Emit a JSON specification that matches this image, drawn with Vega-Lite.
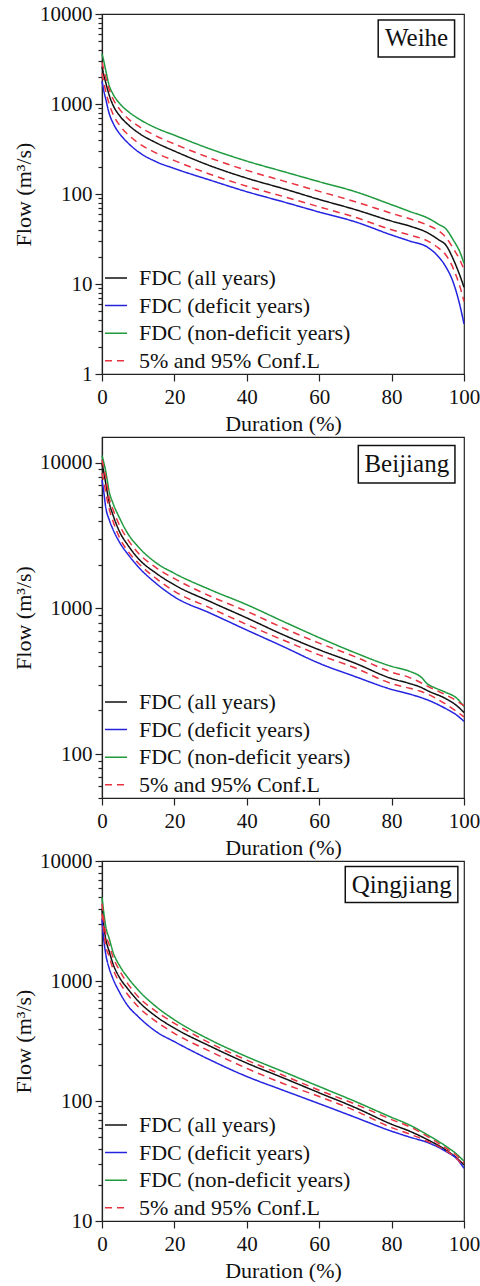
{
  "$schema": "https://vega.github.io/schema/vega-lite/v6.json",
  "background": "white",
  "padding": {"left": 11, "top": 2, "right": 0, "bottom": 0},
  "config": {
    "font": "Liberation Serif",
    "view": {"stroke": "#222", "strokeWidth": 1.2},
    "axis": {"domainColor": "#222", "domainWidth": 1.2, "tickColor": "#222", "tickWidth": 1.2, "labelFont": "Liberation Serif", "labelFontSize": 21, "labelColor": "#111", "titleFont": "Liberation Serif", "titleFontSize": 22, "titleFontWeight": "normal", "titleColor": "#111", "grid": false, "labelOverlap": false, "labelBound": false, "labelFlush": false},
    "legend": {"labelFont": "Liberation Serif", "labelFontSize": 22, "labelColor": "#111", "symbolSize": 484, "symbolStrokeWidth": 1.5, "labelOffset": 11, "rowPadding": 4.6, "padding": 0, "offset": 2, "labelLimit": 0, "symbolType": "stroke"}
  },
  "datasets": {
    "weihe": [
      {"s":"non","x":0,"y":3600},{"s":"non","x":0.5,"y":3000},{"s":"non","x":1,"y":2400},{"s":"non","x":2,"y":1600},{"s":"non","x":3,"y":1300},{"s":"non","x":5,"y":1000},{"s":"non","x":7,"y":840},{"s":"non","x":10,"y":690},{"s":"non","x":15,"y":540},{"s":"non","x":20,"y":450},{"s":"non","x":30,"y":315},{"s":"non","x":40,"y":232},{"s":"non","x":50,"y":178},{"s":"non","x":60,"y":137},{"s":"non","x":70,"y":106},{"s":"non","x":80,"y":76},{"s":"non","x":85,"y":64},{"s":"non","x":90,"y":54},{"s":"non","x":93,"y":46},{"s":"non","x":95,"y":41},{"s":"non","x":97,"y":31},{"s":"non","x":99,"y":22},{"s":"non","x":100,"y":17},
      {"s":"all","x":0,"y":2600},{"s":"all","x":0.5,"y":2100},{"s":"all","x":1,"y":1750},{"s":"all","x":2,"y":1250},{"s":"all","x":3,"y":980},{"s":"all","x":5,"y":730},{"s":"all","x":7,"y":600},{"s":"all","x":10,"y":480},{"s":"all","x":15,"y":370},{"s":"all","x":20,"y":300},{"s":"all","x":30,"y":205},{"s":"all","x":40,"y":150},{"s":"all","x":50,"y":115},{"s":"all","x":60,"y":87},{"s":"all","x":70,"y":67},{"s":"all","x":80,"y":50},{"s":"all","x":85,"y":44},{"s":"all","x":90,"y":37},{"s":"all","x":93,"y":31},{"s":"all","x":95,"y":27},{"s":"all","x":97,"y":19},{"s":"all","x":99,"y":12},{"s":"all","x":100,"y":9.2},
      {"s":"def","x":0,"y":1800},{"s":"def","x":0.5,"y":1400},{"s":"def","x":1,"y":1150},{"s":"def","x":2,"y":780},{"s":"def","x":3,"y":620},{"s":"def","x":5,"y":460},{"s":"def","x":7,"y":375},{"s":"def","x":10,"y":295},{"s":"def","x":15,"y":228},{"s":"def","x":20,"y":192},{"s":"def","x":30,"y":142},{"s":"def","x":40,"y":106},{"s":"def","x":50,"y":82},{"s":"def","x":60,"y":63},{"s":"def","x":70,"y":49},{"s":"def","x":80,"y":35},{"s":"def","x":85,"y":30},{"s":"def","x":90,"y":25.5},{"s":"def","x":93,"y":20},{"s":"def","x":95,"y":15.5},{"s":"def","x":97,"y":10.5},{"s":"def","x":99,"y":5.5},{"s":"def","x":100,"y":3.6},
      {"s":"hi","x":0,"y":2900},{"s":"hi","x":0.5,"y":2400},{"s":"hi","x":1,"y":2000},{"s":"hi","x":2,"y":1450},{"s":"hi","x":3,"y":1150},{"s":"hi","x":5,"y":860},{"s":"hi","x":7,"y":700},{"s":"hi","x":10,"y":570},{"s":"hi","x":15,"y":440},{"s":"hi","x":20,"y":360},{"s":"hi","x":30,"y":250},{"s":"hi","x":40,"y":183},{"s":"hi","x":50,"y":140},{"s":"hi","x":60,"y":107},{"s":"hi","x":70,"y":82},{"s":"hi","x":80,"y":61},{"s":"hi","x":85,"y":53},{"s":"hi","x":90,"y":45},{"s":"hi","x":93,"y":39},{"s":"hi","x":95,"y":33},{"s":"hi","x":97,"y":25},{"s":"hi","x":99,"y":18},{"s":"hi","x":100,"y":14.5},
      {"s":"lo","x":0,"y":2200},{"s":"lo","x":0.5,"y":1750},{"s":"lo","x":1,"y":1400},{"s":"lo","x":2,"y":1000},{"s":"lo","x":3,"y":780},{"s":"lo","x":5,"y":570},{"s":"lo","x":7,"y":465},{"s":"lo","x":10,"y":370},{"s":"lo","x":15,"y":285},{"s":"lo","x":20,"y":235},{"s":"lo","x":30,"y":165},{"s":"lo","x":40,"y":122},{"s":"lo","x":50,"y":94},{"s":"lo","x":60,"y":72},{"s":"lo","x":70,"y":55},{"s":"lo","x":80,"y":40},{"s":"lo","x":85,"y":35},{"s":"lo","x":90,"y":30},{"s":"lo","x":93,"y":25},{"s":"lo","x":95,"y":21},{"s":"lo","x":97,"y":15},{"s":"lo","x":99,"y":9},{"s":"lo","x":100,"y":6.4}
    ],
    "beijiang": [
      {"s":"non","x":0,"y":11200},{"s":"non","x":0.5,"y":10000},{"s":"non","x":1,"y":8800},{"s":"non","x":2,"y":6300},{"s":"non","x":3,"y":5300},{"s":"non","x":5,"y":4100},{"s":"non","x":7,"y":3300},{"s":"non","x":10,"y":2650},{"s":"non","x":15,"y":2050},{"s":"non","x":20,"y":1740},{"s":"non","x":30,"y":1340},{"s":"non","x":40,"y":1060},{"s":"non","x":50,"y":815},{"s":"non","x":60,"y":630},{"s":"non","x":70,"y":495},{"s":"non","x":80,"y":400},{"s":"non","x":85,"y":370},{"s":"non","x":88,"y":340},{"s":"non","x":90,"y":302},{"s":"non","x":92,"y":285},{"s":"non","x":95,"y":265},{"s":"non","x":98,"y":242},{"s":"non","x":100,"y":212},
      {"s":"all","x":0,"y":9800},{"s":"all","x":0.5,"y":8600},{"s":"all","x":1,"y":7300},{"s":"all","x":2,"y":5300},{"s":"all","x":3,"y":4400},{"s":"all","x":5,"y":3300},{"s":"all","x":7,"y":2750},{"s":"all","x":10,"y":2200},{"s":"all","x":15,"y":1740},{"s":"all","x":20,"y":1450},{"s":"all","x":30,"y":1110},{"s":"all","x":40,"y":860},{"s":"all","x":50,"y":660},{"s":"all","x":60,"y":520},{"s":"all","x":70,"y":420},{"s":"all","x":80,"y":330},{"s":"all","x":85,"y":305},{"s":"all","x":88,"y":288},{"s":"all","x":90,"y":272},{"s":"all","x":95,"y":240},{"s":"all","x":98,"y":215},{"s":"all","x":100,"y":193},
      {"s":"def","x":0,"y":7600},{"s":"def","x":0.5,"y":6300},{"s":"def","x":1,"y":5000},{"s":"def","x":2,"y":4050},{"s":"def","x":3,"y":3500},{"s":"def","x":5,"y":2800},{"s":"def","x":7,"y":2380},{"s":"def","x":10,"y":1930},{"s":"def","x":15,"y":1480},{"s":"def","x":20,"y":1200},{"s":"def","x":30,"y":925},{"s":"def","x":40,"y":710},{"s":"def","x":50,"y":548},{"s":"def","x":60,"y":420},{"s":"def","x":70,"y":340},{"s":"def","x":80,"y":278},{"s":"def","x":85,"y":258},{"s":"def","x":88,"y":245},{"s":"def","x":90,"y":235},{"s":"def","x":95,"y":205},{"s":"def","x":98,"y":185},{"s":"def","x":100,"y":168},
      {"s":"hi","x":0,"y":10400},{"s":"hi","x":0.5,"y":9200},{"s":"hi","x":1,"y":8000},{"s":"hi","x":2,"y":5700},{"s":"hi","x":3,"y":4800},{"s":"hi","x":5,"y":3650},{"s":"hi","x":7,"y":3000},{"s":"hi","x":10,"y":2400},{"s":"hi","x":15,"y":1900},{"s":"hi","x":20,"y":1600},{"s":"hi","x":30,"y":1210},{"s":"hi","x":40,"y":955},{"s":"hi","x":50,"y":735},{"s":"hi","x":60,"y":578},{"s":"hi","x":70,"y":465},{"s":"hi","x":80,"y":365},{"s":"hi","x":85,"y":335},{"s":"hi","x":88,"y":310},{"s":"hi","x":90,"y":292},{"s":"hi","x":95,"y":255},{"s":"hi","x":98,"y":232},{"s":"hi","x":100,"y":215},
      {"s":"lo","x":0,"y":8500},{"s":"lo","x":0.5,"y":7500},{"s":"lo","x":1,"y":6300},{"s":"lo","x":2,"y":4800},{"s":"lo","x":3,"y":4000},{"s":"lo","x":5,"y":3000},{"s":"lo","x":7,"y":2500},{"s":"lo","x":10,"y":2050},{"s":"lo","x":15,"y":1600},{"s":"lo","x":20,"y":1310},{"s":"lo","x":30,"y":1005},{"s":"lo","x":40,"y":775},{"s":"lo","x":50,"y":607},{"s":"lo","x":60,"y":480},{"s":"lo","x":70,"y":390},{"s":"lo","x":80,"y":305},{"s":"lo","x":85,"y":283},{"s":"lo","x":88,"y":270},{"s":"lo","x":90,"y":258},{"s":"lo","x":95,"y":220},{"s":"lo","x":98,"y":196},{"s":"lo","x":100,"y":180}
    ],
    "qingjiang": [
      {"s":"non","x":0,"y":5000},{"s":"non","x":0.5,"y":3700},{"s":"non","x":1,"y":2900},{"s":"non","x":2,"y":2250},{"s":"non","x":3,"y":1760},{"s":"non","x":5,"y":1320},{"s":"non","x":7,"y":1080},{"s":"non","x":10,"y":840},{"s":"non","x":15,"y":610},{"s":"non","x":20,"y":475},{"s":"non","x":30,"y":322},{"s":"non","x":40,"y":234},{"s":"non","x":50,"y":176},{"s":"non","x":60,"y":132},{"s":"non","x":70,"y":99},{"s":"non","x":80,"y":73},{"s":"non","x":85,"y":63},{"s":"non","x":90,"y":52},{"s":"non","x":95,"y":42},{"s":"non","x":98,"y":36},{"s":"non","x":100,"y":31.5},
      {"s":"all","x":0,"y":4000},{"s":"all","x":0.5,"y":2900},{"s":"all","x":1,"y":2270},{"s":"all","x":2,"y":1760},{"s":"all","x":3,"y":1400},{"s":"all","x":5,"y":1050},{"s":"all","x":7,"y":870},{"s":"all","x":10,"y":680},{"s":"all","x":15,"y":505},{"s":"all","x":20,"y":405},{"s":"all","x":30,"y":285},{"s":"all","x":40,"y":207},{"s":"all","x":50,"y":156},{"s":"all","x":60,"y":117},{"s":"all","x":70,"y":88},{"s":"all","x":80,"y":64},{"s":"all","x":85,"y":56},{"s":"all","x":90,"y":47.5},{"s":"all","x":95,"y":39},{"s":"all","x":98,"y":33.5},{"s":"all","x":100,"y":29.3},
      {"s":"def","x":0,"y":3300},{"s":"def","x":0.5,"y":2200},{"s":"def","x":1,"y":1700},{"s":"def","x":2,"y":1270},{"s":"def","x":3,"y":1050},{"s":"def","x":5,"y":790},{"s":"def","x":7,"y":630},{"s":"def","x":10,"y":505},{"s":"def","x":15,"y":378},{"s":"def","x":20,"y":312},{"s":"def","x":30,"y":219},{"s":"def","x":40,"y":160},{"s":"def","x":50,"y":123},{"s":"def","x":60,"y":95},{"s":"def","x":70,"y":73},{"s":"def","x":80,"y":56},{"s":"def","x":85,"y":50},{"s":"def","x":90,"y":45},{"s":"def","x":95,"y":38},{"s":"def","x":98,"y":33},{"s":"def","x":100,"y":27.5},
      {"s":"hi","x":0,"y":4400},{"s":"hi","x":0.5,"y":3200},{"s":"hi","x":1,"y":2500},{"s":"hi","x":2,"y":2000},{"s":"hi","x":3,"y":1600},{"s":"hi","x":5,"y":1200},{"s":"hi","x":7,"y":960},{"s":"hi","x":10,"y":740},{"s":"hi","x":15,"y":556},{"s":"hi","x":20,"y":444},{"s":"hi","x":30,"y":302},{"s":"hi","x":40,"y":219},{"s":"hi","x":50,"y":164},{"s":"hi","x":60,"y":123},{"s":"hi","x":70,"y":94},{"s":"hi","x":80,"y":70},{"s":"hi","x":85,"y":61},{"s":"hi","x":90,"y":50.5},{"s":"hi","x":95,"y":40.5},{"s":"hi","x":98,"y":35},{"s":"hi","x":100,"y":30.5},
      {"s":"lo","x":0,"y":3650},{"s":"lo","x":0.5,"y":2600},{"s":"lo","x":1,"y":2000},{"s":"lo","x":2,"y":1600},{"s":"lo","x":3,"y":1270},{"s":"lo","x":5,"y":957},{"s":"lo","x":7,"y":780},{"s":"lo","x":10,"y":611},{"s":"lo","x":15,"y":458},{"s":"lo","x":20,"y":366},{"s":"lo","x":30,"y":258},{"s":"lo","x":40,"y":187},{"s":"lo","x":50,"y":140},{"s":"lo","x":60,"y":109},{"s":"lo","x":70,"y":83},{"s":"lo","x":80,"y":60},{"s":"lo","x":85,"y":53},{"s":"lo","x":90,"y":46},{"s":"lo","x":95,"y":38.5},{"s":"lo","x":98,"y":33},{"s":"lo","x":100,"y":28.4}
    ]
  },
  "spacing": 63,
  "bounds": "flush",
  "resolve": {"scale": {"x": "independent", "y": "independent", "color": "independent", "strokeDash": "independent"}, "legend": {"color": "independent", "strokeDash": "independent"}},
  "vconcat": [
    {
      "width": 362, "height": 360,
      "layer": [
        {
          "data": {"name": "weihe"},
          "mark": {"type": "line", "strokeWidth": 1.5, "interpolate": "monotone"},
          "encoding": {
            "x": {"field": "x", "type": "quantitative", "scale": {"domain": [0, 100], "nice": false, "zero": false},
                  "axis": {"title": "Duration (%)", "values": [0,10,20,30,40,50,60,70,80,90,100], "labelExpr": "datum.value % 20 == 0 ? datum.label : ''", "tickSize": {"condition": {"test": "datum.value % 20 == 0", "value": 7}, "value": 4}, "labelPadding": 5, "titlePadding": 6}},
            "y": {"field": "y", "type": "quantitative", "scale": {"type": "log", "domain": [1, 10000], "nice": false},
                  "axis": {"title": "Flow (m³/s)", "format": "d", "values": [1,2,3,4,5,6,7,8,9,10,20,30,40,50,60,70,80,90,100,200,300,400,500,600,700,800,900,1000,2000,3000,4000,5000,6000,7000,8000,9000,10000], "labelExpr": "indexof([1,10,100,1000,10000], datum.value) >= 0 ? datum.label : ''", "tickSize": {"condition": {"test": "indexof([1,10,100,1000,10000], datum.value) >= 0", "value": 7}, "value": 4}, "labelPadding": 3, "titlePadding": 4}},
            "color": {"field": "s", "type": "nominal", "scale": {"domain": ["all","def","non","hi","lo"], "range": ["#111111","#2424e0","#1f9a3e","#e8323f","#e8323f"]},
                      "legend": {"title": null, "orient": "bottom-left", "values": ["all","def","non","hi"], "labelExpr": "datum.label == 'all' ? 'FDC (all years)' : datum.label == 'def' ? 'FDC (deficit years)' : datum.label == 'non' ? 'FDC (non-deficit years)' : '5% and 95% Conf.L'"}},
            "strokeDash": {"field": "s", "type": "nominal", "scale": {"domain": ["all","def","non","hi","lo"], "range": [[1,0],[1,0],[1,0],[7,5],[7,5]]},
                      "legend": {"title": null, "orient": "bottom-left", "values": ["all","def","non","hi"], "labelExpr": "datum.label == 'all' ? 'FDC (all years)' : datum.label == 'def' ? 'FDC (deficit years)' : datum.label == 'non' ? 'FDC (non-deficit years)' : '5% and 95% Conf.L'"}}
          }
        },
        {
          "data": {"values": [{}]},
          "mark": {"type": "rect", "fill": "white", "stroke": "#111", "strokeWidth": 1.5},
          "encoding": {"x": {"datum": 76.3}, "x2": {"datum": 97.4}, "y": {"datum": 8577}, "y2": {"datum": 3327}}
        },
        {
          "data": {"values": [{}]},
          "mark": {"type": "text", "text": "Weihe", "font": "Liberation Serif", "fontSize": 25, "color": "#111"},
          "encoding": {"x": {"datum": 86.9}, "y": {"datum": 5346}}
        }
      ]
    },
    {
      "width": 362, "height": 361,
      "layer": [
        {
          "data": {"name": "beijiang"},
          "mark": {"type": "line", "strokeWidth": 1.5, "interpolate": "monotone"},
          "encoding": {
            "x": {"field": "x", "type": "quantitative", "scale": {"domain": [0, 100], "nice": false, "zero": false},
                  "axis": {"title": "Duration (%)", "values": [0,10,20,30,40,50,60,70,80,90,100], "labelExpr": "datum.value % 20 == 0 ? datum.label : ''", "tickSize": {"condition": {"test": "datum.value % 20 == 0", "value": 7}, "value": 4}, "labelPadding": 5, "titlePadding": 6}},
            "y": {"field": "y", "type": "quantitative", "scale": {"type": "log", "domain": [50, 15000], "nice": false},
                  "axis": {"title": "Flow (m³/s)", "format": "d", "values": [50,60,70,80,90,100,200,300,400,500,600,700,800,900,1000,2000,3000,4000,5000,6000,7000,8000,9000,10000], "labelExpr": "indexof([1,10,100,1000,10000], datum.value) >= 0 ? datum.label : ''", "tickSize": {"condition": {"test": "indexof([1,10,100,1000,10000], datum.value) >= 0", "value": 7}, "value": 4}, "labelPadding": 3, "titlePadding": 4}},
            "color": {"field": "s", "type": "nominal", "scale": {"domain": ["all","def","non","hi","lo"], "range": ["#111111","#2424e0","#1f9a3e","#e8323f","#e8323f"]},
                      "legend": {"title": null, "orient": "bottom-left", "values": ["all","def","non","hi"], "labelExpr": "datum.label == 'all' ? 'FDC (all years)' : datum.label == 'def' ? 'FDC (deficit years)' : datum.label == 'non' ? 'FDC (non-deficit years)' : '5% and 95% Conf.L'"}},
            "strokeDash": {"field": "s", "type": "nominal", "scale": {"domain": ["all","def","non","hi","lo"], "range": [[1,0],[1,0],[1,0],[7,5],[7,5]]},
                      "legend": {"title": null, "orient": "bottom-left", "values": ["all","def","non","hi"], "labelExpr": "datum.label == 'all' ? 'FDC (all years)' : datum.label == 'def' ? 'FDC (deficit years)' : datum.label == 'non' ? 'FDC (non-deficit years)' : '5% and 95% Conf.L'"}}
          }
        },
        {
          "data": {"values": [{}]},
          "mark": {"type": "rect", "fill": "white", "stroke": "#111", "strokeWidth": 1.5},
          "encoding": {"x": {"datum": 70.8}, "x2": {"datum": 97.5}, "y": {"datum": 13140}, "y2": {"datum": 7260}}
        },
        {
          "data": {"values": [{}]},
          "mark": {"type": "text", "text": "Beijiang", "font": "Liberation Serif", "fontSize": 25, "color": "#111"},
          "encoding": {"x": {"datum": 84.2}, "y": {"datum": 9770}}
        }
      ]
    },
    {
      "width": 362, "height": 360,
      "layer": [
        {
          "data": {"name": "qingjiang"},
          "mark": {"type": "line", "strokeWidth": 1.5, "interpolate": "monotone"},
          "encoding": {
            "x": {"field": "x", "type": "quantitative", "scale": {"domain": [0, 100], "nice": false, "zero": false},
                  "axis": {"title": "Duration (%)", "values": [0,10,20,30,40,50,60,70,80,90,100], "labelExpr": "datum.value % 20 == 0 ? datum.label : ''", "tickSize": {"condition": {"test": "datum.value % 20 == 0", "value": 7}, "value": 4}, "labelPadding": 5, "titlePadding": 6}},
            "y": {"field": "y", "type": "quantitative", "scale": {"type": "log", "domain": [10, 10000], "nice": false},
                  "axis": {"title": "Flow (m³/s)", "format": "d", "values": [10,20,30,40,50,60,70,80,90,100,200,300,400,500,600,700,800,900,1000,2000,3000,4000,5000,6000,7000,8000,9000,10000], "labelExpr": "indexof([1,10,100,1000,10000], datum.value) >= 0 ? datum.label : ''", "tickSize": {"condition": {"test": "indexof([1,10,100,1000,10000], datum.value) >= 0", "value": 7}, "value": 4}, "labelPadding": 3, "titlePadding": 4}},
            "color": {"field": "s", "type": "nominal", "scale": {"domain": ["all","def","non","hi","lo"], "range": ["#111111","#2424e0","#1f9a3e","#e8323f","#e8323f"]},
                      "legend": {"title": null, "orient": "bottom-left", "values": ["all","def","non","hi"], "labelExpr": "datum.label == 'all' ? 'FDC (all years)' : datum.label == 'def' ? 'FDC (deficit years)' : datum.label == 'non' ? 'FDC (non-deficit years)' : '5% and 95% Conf.L'"}},
            "strokeDash": {"field": "s", "type": "nominal", "scale": {"domain": ["all","def","non","hi","lo"], "range": [[1,0],[1,0],[1,0],[7,5],[7,5]]},
                      "legend": {"title": null, "orient": "bottom-left", "values": ["all","def","non","hi"], "labelExpr": "datum.label == 'all' ? 'FDC (all years)' : datum.label == 'def' ? 'FDC (deficit years)' : datum.label == 'non' ? 'FDC (non-deficit years)' : '5% and 95% Conf.L'"}}
          }
        },
        {
          "data": {"values": [{}]},
          "mark": {"type": "rect", "fill": "white", "stroke": "#111", "strokeWidth": 1.5},
          "encoding": {"x": {"datum": 67.2}, "x2": {"datum": 98.3}, "y": {"datum": 8980}, "y2": {"datum": 4500}}
        },
        {
          "data": {"values": [{}]},
          "mark": {"type": "text", "text": "Qingjiang", "font": "Liberation Serif", "fontSize": 25, "color": "#111"},
          "encoding": {"x": {"datum": 82.8}, "y": {"datum": 6350}}
        }
      ]
    }
  ]
}
